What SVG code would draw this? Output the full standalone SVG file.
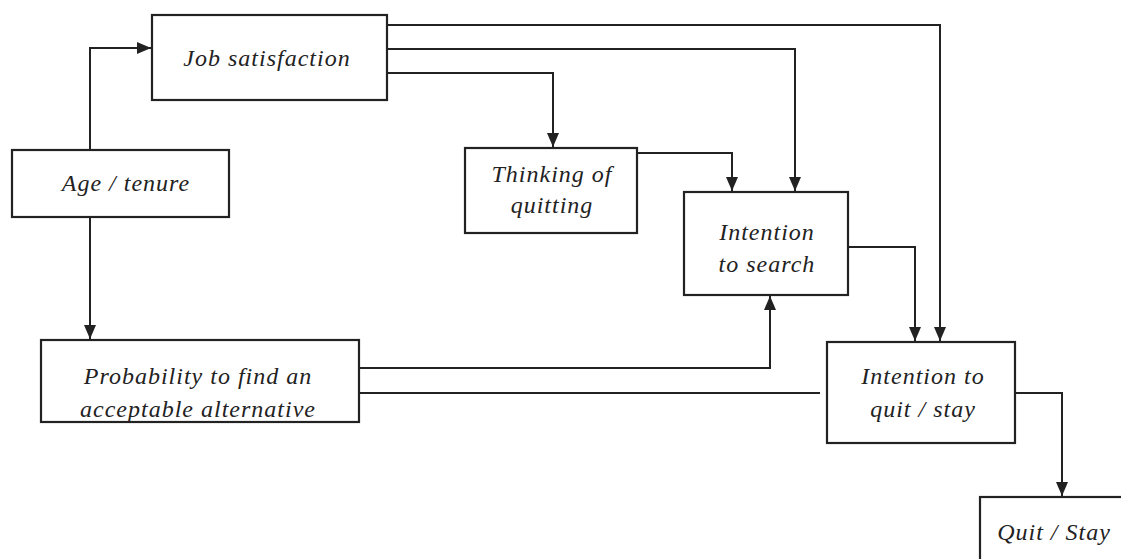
<svg xmlns="http://www.w3.org/2000/svg" width="1121" height="559" viewBox="0 0 1121 559">
<style>
.box{fill:#fff;stroke:#222;stroke-width:2.2}
.lbl{font-family:"Liberation Serif","Times New Roman",serif;font-style:italic;font-size:24px;letter-spacing:1px;fill:#222;text-anchor:middle}
.con{fill:none;stroke:#222;stroke-width:2}
</style>
<defs>
<marker id="ah" markerUnits="userSpaceOnUse" markerWidth="15" markerHeight="15" viewBox="0 0 15 15" refX="14" refY="7.5" orient="auto">
<path d="M0,1.5 L14,7.5 L0,13.5 Z" fill="#222"/>
</marker>
</defs>
<rect width="1121" height="559" fill="#fff"/>
<g id="connectors">
<path class="con" d="M90,150 V48 H151" marker-end="url(#ah)"/>
<path class="con" d="M90,217 V339" marker-end="url(#ah)"/>
<path class="con" d="M387,25 H940 V341" marker-end="url(#ah)"/>
<path class="con" d="M387,49 H795 V191" marker-end="url(#ah)"/>
<path class="con" d="M387,73 H553 V147" marker-end="url(#ah)"/>
<path class="con" d="M637,153 H732 V191" marker-end="url(#ah)"/>
<path class="con" d="M848,247 H915 V341" marker-end="url(#ah)"/>
<path class="con" d="M359,368 H770 V296" marker-end="url(#ah)"/>
<path class="con" d="M359,393 H820"/>
<path class="con" d="M1015,393 H1062 V496" marker-end="url(#ah)"/>
</g>
<g id="job-satisfaction">
<rect class="box" x="152" y="15" width="235" height="85"/>
<text class="lbl" x="267" y="66">Job satisfaction</text>
</g>
<g id="age-tenure">
<rect class="box" x="12" y="150" width="217" height="67"/>
<text class="lbl" x="126" y="191">Age / tenure</text>
</g>
<g id="thinking-of-quitting">
<rect class="box" x="465" y="148" width="172" height="85"/>
<text class="lbl" x="552" y="182">Thinking of</text>
<text class="lbl" x="552" y="213">quitting</text>
</g>
<g id="intention-to-search">
<rect class="box" x="684" y="192" width="164" height="103"/>
<text class="lbl" x="767" y="240">Intention</text>
<text class="lbl" x="767" y="272">to search</text>
</g>
<g id="probability">
<rect class="box" x="41" y="340" width="318" height="82"/>
<text class="lbl" x="198" y="384">Probability to find an</text>
<text class="lbl" x="198" y="417">acceptable alternative</text>
</g>
<g id="intention-to-quit-stay">
<rect class="box" x="827" y="342" width="188" height="101"/>
<text class="lbl" x="923" y="384">Intention to</text>
<text class="lbl" x="923" y="417">quit / stay</text>
</g>
<g id="quit-stay">
<rect class="box" x="980" y="497" width="160" height="80"/>
<text class="lbl" x="1054" y="540">Quit / Stay</text>
</g>
</svg>
